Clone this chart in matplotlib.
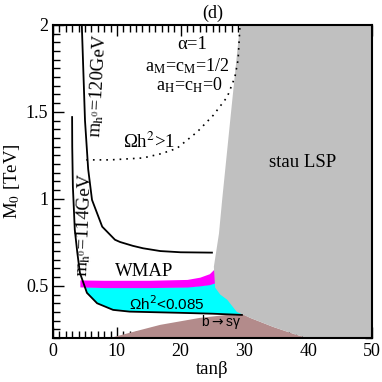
import numpy as np
import matplotlib
matplotlib.use("Agg")
import matplotlib.pyplot as plt
from matplotlib.ticker import MultipleLocator

plt.rcParams['font.family'] = ['Liberation Serif', 'DejaVu Serif']
plt.rcParams['mathtext.fontset'] = 'stix'

# higgs mass contours
mh120_tb = [4.5, 5.0, 5.5, 6.1, 7.7, 9.7, 10.5, 12.5, 14.1, 16.8, 20.0, 24.9]
mh120_m0 = [2.0, 1.45, 1.17, 0.994, 0.84, 0.765, 0.752, 0.73, 0.716, 0.70, 0.693, 0.691]

mh114_tb = [2.98, 3.0, 3.1, 3.4, 3.8, 4.2, 5.3, 6.9, 9.4, 12.0, 20.0, 25.0, 29.6]
mh114_m0 = [1.47, 1.3, 1.07, 0.822, 0.69, 0.575, 0.46, 0.40, 0.362, 0.352, 0.345, 0.34, 0.333]

# Omega h^2 > 1 boundary (dotted)
omega1_tb = [5.2, 9.0, 14.1, 17.0, 19.4, 22.6, 25.1, 27.3, 28.5, 29.0, 29.3]
omega1_m0 = [1.224, 1.224, 1.235, 1.26, 1.29, 1.385, 1.48, 1.586, 1.70, 1.80, 2.0]

# WMAP band
wmap_tb = [4.2, 8.0, 15.0, 21.0, 23.0, 24.5, 25.6]
wmap_top = [0.534, 0.532, 0.532, 0.537, 0.55, 0.57, 0.61]
wmap_bot = [0.494, 0.49, 0.49, 0.493, 0.50, 0.507, 0.52]

# Omega h^2 < 0.085 region
cyan_tb = [4.85, 5.3, 6.9, 9.4, 12.0, 20.0, 25.0, 29.6, 27.0, 25.6, 24.5, 23.0, 21.0, 15.0, 8.0]
cyan_m0 = [0.494, 0.46, 0.40, 0.362, 0.352, 0.345, 0.34, 0.333, 0.55, 0.52, 0.507, 0.50, 0.493, 0.49, 0.49]

# stau LSP region
stau_tb = [29.3, 27.9, 26.5, 26.0, 25.2, 25.4, 26.2, 27.3, 28.8, 30.9, 34.5, 38.2, 40.0, 50.0, 50.0]
stau_m0 = [2.0, 1.5, 0.994, 0.8, 0.61, 0.49, 0.45, 0.42, 0.35, 0.316, 0.264, 0.218, 0.2, 0.2, 2.0]

# b -> s gamma excluded
bsg_tb = [8.9, 12.5, 16.8, 23.0, 28.0, 29.8, 30.9, 34.5, 38.2, 40.0]
bsg_m0 = [0.2, 0.235, 0.276, 0.316, 0.336, 0.336, 0.316, 0.264, 0.218, 0.2]

fig = plt.figure(figsize=(3.82, 3.82), dpi=100)
ax = fig.add_axes([0.139, 0.115, 0.835, 0.82])

ax.fill(cyan_tb, cyan_m0, color='#00ffff', lw=0, zorder=1)
ax.fill_between(wmap_tb, wmap_bot, wmap_top, color='#ff00ff', lw=0, zorder=2)
ax.fill(bsg_tb, bsg_m0, color='#b38b8b', lw=0, zorder=3)
ax.fill(stau_tb, stau_m0, color='#c0c0c0', lw=0, zorder=3)

ax.plot(mh120_tb, mh120_m0, color='black', lw=1.3, zorder=4)
ax.plot(mh114_tb, mh114_m0, color='black', lw=1.3, zorder=4)
ax.plot(omega1_tb, omega1_m0, color='black', lw=1.2, ls=(0, (1, 3)), zorder=4)

fs = 13.5
ax.text(21.8, 1.885, 'α=1', fontsize=fs, ha='center', va='center')
ax.text(21.1, 1.76, r'a$_{\rm M}$=c$_{\rm M}$=1/2', fontsize=13, ha='center', va='center')
ax.text(21.3, 1.655, r'a$_{\rm H}$=c$_{\rm H}$=0', fontsize=13, ha='center', va='center')
ax.text(15.1, 1.33, r'Ωh$^2$>1', fontsize=fs, ha='center', va='center')
ax.text(7.0, 1.65, r'm$_{\rm h^0}$=120GeV', fontsize=fs, ha='center', va='center', rotation=87)
ax.text(4.9, 0.85, r'm$_{\rm h^0}$=114GeV', fontsize=fs, ha='center', va='center', rotation=88)
ax.text(14.2, 0.58, 'WMAP', fontsize=fs, ha='center', va='center')
ax.text(17.8, 0.395, r'Ωh$^2$<0.085', fontsize=11, ha='center', va='center',
        family='Liberation Sans', math_fontfamily='dejavusans')
ax.text(26.3, 0.295, r'b$\rightarrow$sγ', fontsize=10, ha='center', va='center',
        family=['Liberation Sans', 'DejaVu Sans'], math_fontfamily='dejavusans')
ax.text(39.1, 1.21, 'stau LSP', fontsize=fs, ha='center', va='center', zorder=5)

ax.set_xlim(0, 50)
ax.set_ylim(0.2, 2.0)
ax.xaxis.set_major_locator(MultipleLocator(10))
ax.xaxis.set_minor_locator(MultipleLocator(1))
ax.yaxis.set_minor_locator(MultipleLocator(0.05))
ax.set_yticks([0.5, 1, 1.5, 2])
ax.set_yticklabels(['0.5', '1', '1.5', '2'])
ax.tick_params(which='both', direction='in', top=True, right=True, labelsize=13, width=1)
ax.tick_params(which='major', length=8)
ax.tick_params(which='minor', length=5)
for s in ax.spines.values():
    s.set_linewidth(1.5)
    s.set_zorder(6)

ax.set_xlabel('tanβ', fontsize=13.5, labelpad=1)
ax.set_ylabel(r'M$_0$ [TeV]', fontsize=13.5, labelpad=3)
ax.set_title('(d)', fontsize=13, pad=5)

fig.savefig('out.png', dpi=100)
